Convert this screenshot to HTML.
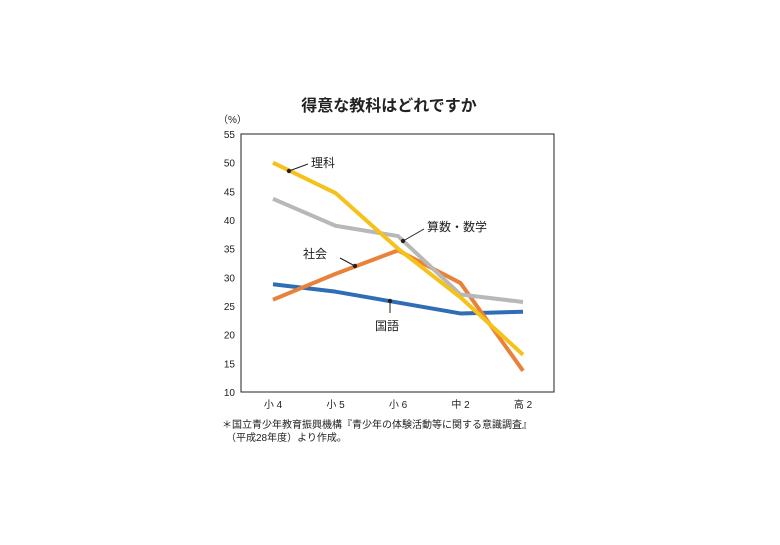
<!DOCTYPE html>
<html><head><meta charset="utf-8"><style>
body{margin:0;background:#fff;}
svg text{font-family:"Liberation Sans","Noto Sans CJK JP",sans-serif;}
</style></head><body>
<svg width="780" height="540" id="c">
<text x="389" y="111" text-anchor="middle" font-size="16" font-weight="bold" fill="#222">得意な教科はどれですか</text>
<text x="218" y="123" font-size="10" fill="#222">（%）</text>
<rect x="241" y="134" width="313" height="258" fill="none" stroke="#222" stroke-width="1"/>
<g id="yt"></g><g id="xt"></g><g id="lines"></g>
<g id="ann" font-size="12" fill="#222">
<line x1="289" y1="171" x2="308" y2="164" stroke="#222" stroke-width="1"/><circle cx="289" cy="171" r="2.2" fill="#222"/>
<text x="311" y="167">理科</text>
<line x1="403" y1="241" x2="424" y2="229" stroke="#222" stroke-width="1"/><circle cx="403" cy="241" r="2.2" fill="#222"/>
<text x="427" y="231">算数・数学</text>
<line x1="340" y1="258" x2="355" y2="266" stroke="#222" stroke-width="1"/><circle cx="355" cy="266" r="2.2" fill="#222"/>
<text x="303" y="258">社会</text>
<line x1="390" y1="301" x2="390" y2="313" stroke="#222" stroke-width="1"/><circle cx="390" cy="301" r="2.2" fill="#222"/>
<text x="375" y="330">国語</text>
</g>
<text x="222" y="428" font-size="10" fill="#222">＊国立青少年教育振興機構『青少年の体験活動等に関する意識調査』</text>
<text x="226" y="441" font-size="10" fill="#222">（平成28年度）より作成。</text>
</svg>
<script>
const categories=["小 4","小 5","小 6","中 2","高 2"];
const yTicks=[10,15,20,25,30,35,40,45,50,55];
const japanese=[28.8,27.5,25.6,23.7,24];
const social=[26.1,30.6,34.7,29,13.7];
const math=[43.7,39,37.2,27,25.7];
const science=[50,44.7,35,26.5,16.5];
const NS="http://www.w3.org/2000/svg";
const x=i=>273+i*62.5;
const y=v=>392-(v-10)*(258/45);
function mk(t,a,p){const e=document.createElementNS(NS,t);for(const k in a)e.setAttribute(k,a[k]);p.appendChild(e);return e;}
const yt=document.getElementById('yt');
yTicks.forEach(v=>{const t=mk('text',{x:235,y:y(v)+4,'text-anchor':'end','font-size':10,fill:'#222'},yt);t.textContent=v;

});
const xt=document.getElementById('xt');
categories.forEach((c,i)=>{const t=mk('text',{x:x(i),y:408,'text-anchor':'middle','font-size':10,fill:'#222'},xt);t.textContent=c;

});
const lg=document.getElementById('lines');
[[japanese,'#2f6db5','line-japanese'],[social,'#e8823a','line-social'],[math,'#b8b8b8','line-math'],[science,'#f5c21b','line-science']].forEach(([d,col,n])=>{
const p=mk('polyline',{points:d.map((v,i)=>x(i)+','+y(v)).join(' '),fill:'none',stroke:col,'stroke-width':4,'stroke-linejoin':'round'},lg);

});
</script>
</body></html>
